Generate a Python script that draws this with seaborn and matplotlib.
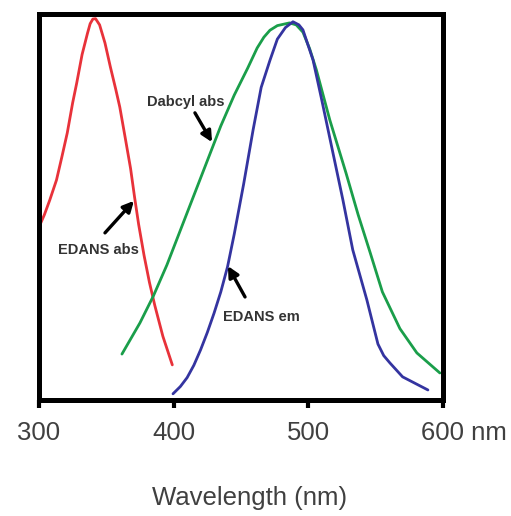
import numpy as np
import pandas as pd
import seaborn as sns
import matplotlib.pyplot as plt
import matplotlib.transforms as mtransforms

# spectra (normalised intensity, 0 = axis, 1 = top of box)
edans_abs_wl = [300, 304, 308, 313, 317, 321, 325, 328, 332, 336, 338, 340, 342, 345, 349,
                353, 357, 360, 364, 368, 371, 374, 378, 382, 386, 392, 399]
edans_abs_int = [0.448, 0.480, 0.518, 0.570, 0.630, 0.692, 0.770, 0.821, 0.895, 0.950, 0.975,
                 0.987, 0.988, 0.972, 0.925, 0.863, 0.805, 0.759, 0.680, 0.600, 0.525, 0.455,
                 0.375, 0.305, 0.245, 0.165, 0.091]

dabcyl_abs_wl = [361.6, 375, 385, 395, 405, 415, 425, 435, 445, 455, 462, 467, 471.5, 477,
                 486, 491, 496, 501, 506, 516, 528, 537, 546, 555, 568, 580.6, 597.7]
dabcyl_abs_int = [0.119, 0.200, 0.270, 0.350, 0.440, 0.530, 0.620, 0.710, 0.790, 0.860, 0.912,
                  0.940, 0.958, 0.970, 0.977, 0.972, 0.953, 0.910, 0.855, 0.725, 0.588, 0.480,
                  0.381, 0.280, 0.185, 0.122, 0.070]

edans_em_wl = [399.5, 405, 410, 415, 420, 425, 430, 435, 440, 445, 452, 459, 465, 471.5, 477,
               483, 488.6, 493, 496, 503.5, 510, 518.3, 525.7, 533, 543.5, 551.7, 556, 560.6,
               570, 588.8]
edans_em_int = [0.016, 0.035, 0.058, 0.090, 0.130, 0.175, 0.225, 0.280, 0.345, 0.430, 0.560,
                0.700, 0.810, 0.880, 0.935, 0.965, 0.980, 0.972, 0.959, 0.881, 0.777, 0.640,
                0.518, 0.389, 0.259, 0.145, 0.115, 0.096, 0.060, 0.026]

tick_values = [300, 400, 500, 600]
tick_labels = ["300", "400", "500", "600 nm"]

df = pd.concat([
    pd.DataFrame({"wl": edans_abs_wl, "val": edans_abs_int, "spec": "EDANS abs"}),
    pd.DataFrame({"wl": dabcyl_abs_wl, "val": dabcyl_abs_int, "spec": "Dabcyl abs"}),
    pd.DataFrame({"wl": edans_em_wl, "val": edans_em_int, "spec": "EDANS em"}),
], ignore_index=True)

palette = {"EDANS abs": "#e8323a", "Dabcyl abs": "#1a9e4a", "EDANS em": "#3434a0"}

sns.set_style("white")
plt.rcParams["font.family"] = ["Liberation Sans", "DejaVu Sans"]

fig = plt.figure(figsize=(5.11, 5.16), dpi=100)
ax = fig.add_axes([0.0763, 0.2248, 0.7906, 0.748])

sns.lineplot(data=df, x="wl", y="val", hue="spec", palette=palette, sort=False,
             estimator=None, legend=False, linewidth=2.0, ax=ax)

ax.set_xlim(300, 600)
ax.set_ylim(0, 1)
ax.set_yticks([])
ax.set_xticks(tick_values)
ax.set_xticklabels(tick_labels, fontsize=18.5, color="#404040")
ax.tick_params(axis="x", direction="out", length=6, width=3, color="black", pad=9, bottom=True)
for s in ax.spines.values():
    s.set_linewidth(3.6)
    s.set_color("black")

# "600 nm": number centred on the tick, unit hanging to the right
last = ax.get_xticklabels()[-1]
last.set_ha("left")
last.set_transform(last.get_transform() + mtransforms.ScaledTranslation(-22 / 100, 0, fig.dpi_scale_trans))

ax.set_xlabel("Wavelength (nm)", fontsize=18.5, color="#404040")
ax.xaxis.set_label_coords(0.52, -0.222)
ax.set_ylabel("")

note_font = dict(fontsize=10.5, fontweight="bold", color="#333333",
                 family=["Liberation Sans Narrow", "Liberation Sans", "DejaVu Sans"],
                 ha="center", va="center")
arrow = dict(arrowstyle="-|>", lw=2.4, color="black", mutation_scale=16, shrinkA=0, shrinkB=0)

ax.text(409.2, 0.772, "Dabcyl abs", **note_font)
ax.annotate("", xy=(428.5, 0.668), xytext=(415.8, 0.744), arrowprops=arrow)
ax.text(343.8, 0.389, "EDANS abs", **note_font)
ax.annotate("", xy=(370.5, 0.516), xytext=(349.0, 0.433), arrowprops=arrow)
ax.text(464.8, 0.215, "EDANS em", **note_font)
ax.annotate("", xy=(440.3, 0.347), xytext=(453.0, 0.267), arrowprops=arrow)

fig.savefig("out.png", dpi=100)
